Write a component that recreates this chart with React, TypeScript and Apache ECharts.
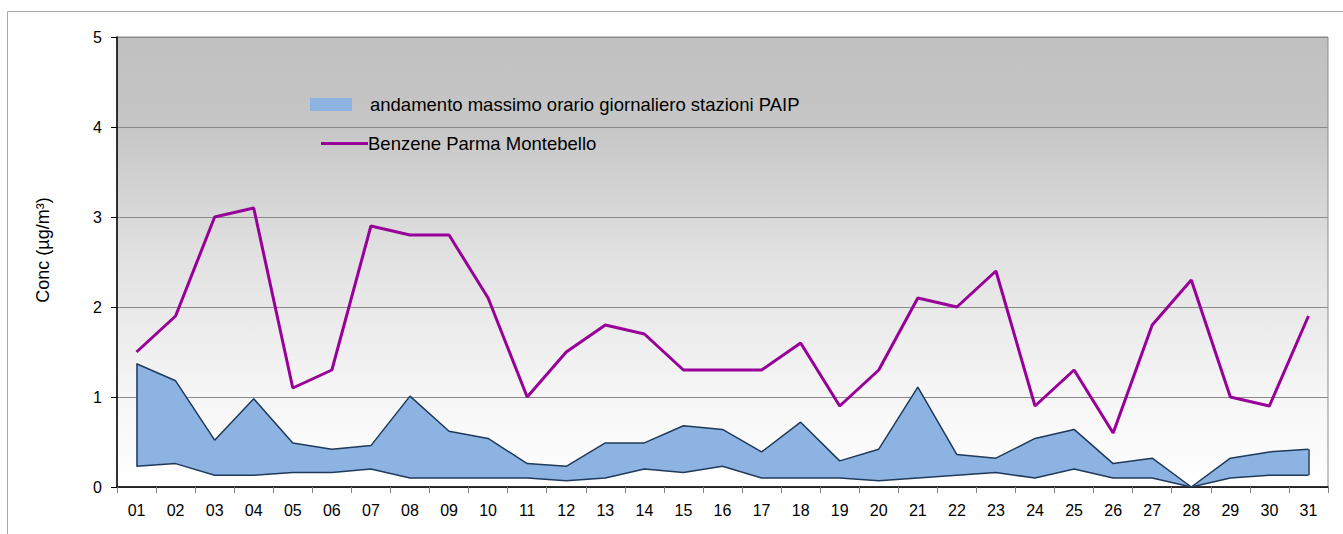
import React, { useEffect, useRef } from "react";
import * as echarts from "echarts";

const days = ["01","02","03","04","05","06","07","08","09","10","11","12","13","14","15","16","17","18","19","20","21","22","23","24","25","26","27","28","29","30","31"];
const benzene = [1.5,1.9,3.0,3.1,1.1,1.3,2.9,2.8,2.8,2.1,1.0,1.5,1.8,1.7,1.3,1.3,1.3,1.6,0.9,1.3,2.1,2.0,2.4,0.9,1.3,0.6,1.8,2.3,1.0,0.9,1.9];
const bandUpper = [1.37,1.18,0.52,0.98,0.49,0.42,0.46,1.01,0.62,0.54,0.26,0.23,0.49,0.49,0.68,0.64,0.39,0.72,0.29,0.42,1.11,0.36,0.32,0.54,0.64,0.26,0.32,0.0,0.32,0.39,0.42];
const bandLower = [0.23,0.26,0.13,0.13,0.16,0.16,0.2,0.1,0.1,0.1,0.1,0.07,0.1,0.2,0.16,0.23,0.1,0.1,0.1,0.07,0.1,0.13,0.16,0.1,0.2,0.1,0.1,0.0,0.1,0.13,0.13];
const yTicks = [0, 1, 2, 3, 4, 5];

const bandName = "andamento massimo orario giornaliero stazioni PAIP";
const lineName = "Benzene Parma Montebello";
const yTitle = "Conc (µg/m³)";

export default function App() {
  const ref = useRef<HTMLDivElement>(null);
  useEffect(() => {
    if (!ref.current) return;
    const chart = echarts.init(ref.current, null, { renderer: "svg" });
    const font = "Liberation Sans, Arial, sans-serif";
    const delta = bandUpper.map((u, i) => +(u - bandLower[i]).toFixed(3));
    const first = 0;
    const last = days.length - 1;
    chart.setOption({
      animation: false,
      textStyle: { fontFamily: font },
      graphic: [
        {
          type: "rect",
          shape: { x: 7.5, y: 11.5, width: 1345, height: 540 },
          style: { fill: "none", stroke: "#a8a8a8", lineWidth: 1 },
          silent: true,
        },
        {
          type: "text",
          x: 43,
          y: 250,
          rotation: Math.PI / 2,
          style: {
            text: yTitle,
            fontSize: 18,
            fontFamily: font,
            fill: "#000",
            align: "center",
            verticalAlign: "middle",
          },
          silent: true,
        },
      ],
      grid: {
        left: 117,
        right: 15,
        top: 37,
        bottom: 47,
        show: true,
        borderWidth: 1,
        borderColor: "#8a8a8a",
        backgroundColor: new echarts.graphic.LinearGradient(0, 0, 0, 1, [
          { offset: 0, color: "#c0c0c0" },
          { offset: 0.2, color: "#c6c6c6" },
          { offset: 0.5, color: "#e2e2e2" },
          { offset: 0.8, color: "#f6f6f6" },
          { offset: 1, color: "#ffffff" },
        ]),
      },
      legend: [
        {
          data: [{ name: bandName, icon: "rect", itemStyle: { color: "#8db3e2", borderWidth: 0 } }],
          left: 305,
          top: 90,
          itemWidth: 42,
          itemHeight: 13,
          selectedMode: false,
          textStyle: { fontSize: 18.5, color: "#000", padding: [0, 0, 0, 13], fontFamily: font },
        },
        {
          data: [{ name: lineName, icon: "rect", itemStyle: { color: "#990099" } }],
          left: 316,
          top: 129,
          itemWidth: 47,
          itemHeight: 3,
          selectedMode: false,
          textStyle: { fontSize: 18.5, color: "#000", padding: [0, 0, 0, -5], fontFamily: font },
        },
      ],
      xAxis: {
        type: "category",
        data: days,
        boundaryGap: true,
        axisLine: { lineStyle: { color: "#000", width: 1.5 } },
        axisTick: { show: true, length: 6, lineStyle: { color: "#808080" } },
        axisLabel: { fontSize: 16, color: "#000", margin: 15, interval: 0, fontFamily: font },
      },
      yAxis: {
        type: "value",
        min: yTicks[0],
        max: yTicks[yTicks.length - 1],
        interval: 1,
        axisLine: { show: true, lineStyle: { color: "#000", width: 1.5 } },
        axisTick: { show: true, length: 6, lineStyle: { color: "#000" } },
        axisLabel: { fontSize: 16, color: "#000", margin: 15, fontFamily: font },
        splitLine: { show: true, lineStyle: { color: "#8a8a8a", width: 1 } },
      },
      series: [
        {
          name: "lower",
          type: "line",
          stack: "band",
          data: bandLower,
          symbol: "none",
          lineStyle: { color: "#1f3a5a", width: 1.5 },
          itemStyle: { color: "#1f3a5a" },
          z: 3,
        },
        {
          name: bandName,
          type: "line",
          stack: "band",
          data: delta,
          symbol: "none",
          lineStyle: { color: "#1f3a5a", width: 1.5 },
          itemStyle: { color: "#8db3e2" },
          areaStyle: { color: "#8db3e2", opacity: 1 },
          z: 2,
          markLine: {
            silent: true,
            symbol: "none",
            label: { show: false },
            lineStyle: { color: "#1f3a5a", width: 1.5, type: "solid" },
            data: [
              [
                { coord: [days[first], bandLower[first]] },
                { coord: [days[first], bandUpper[first]] },
              ],
              [
                { coord: [days[last], bandLower[last]] },
                { coord: [days[last], bandUpper[last]] },
              ],
            ],
          },
        },
        {
          name: lineName,
          type: "line",
          data: benzene,
          symbol: "none",
          lineStyle: { color: "#990099", width: 3 },
          itemStyle: { color: "#990099" },
          z: 4,
        },
      ],
    });
    return () => chart.dispose();
  }, []);
  return (
    <div
      ref={ref}
      style={{ position: "fixed", left: 0, top: 0, width: 1343, height: 534, background: "#fff" }}
    />
  );
}
